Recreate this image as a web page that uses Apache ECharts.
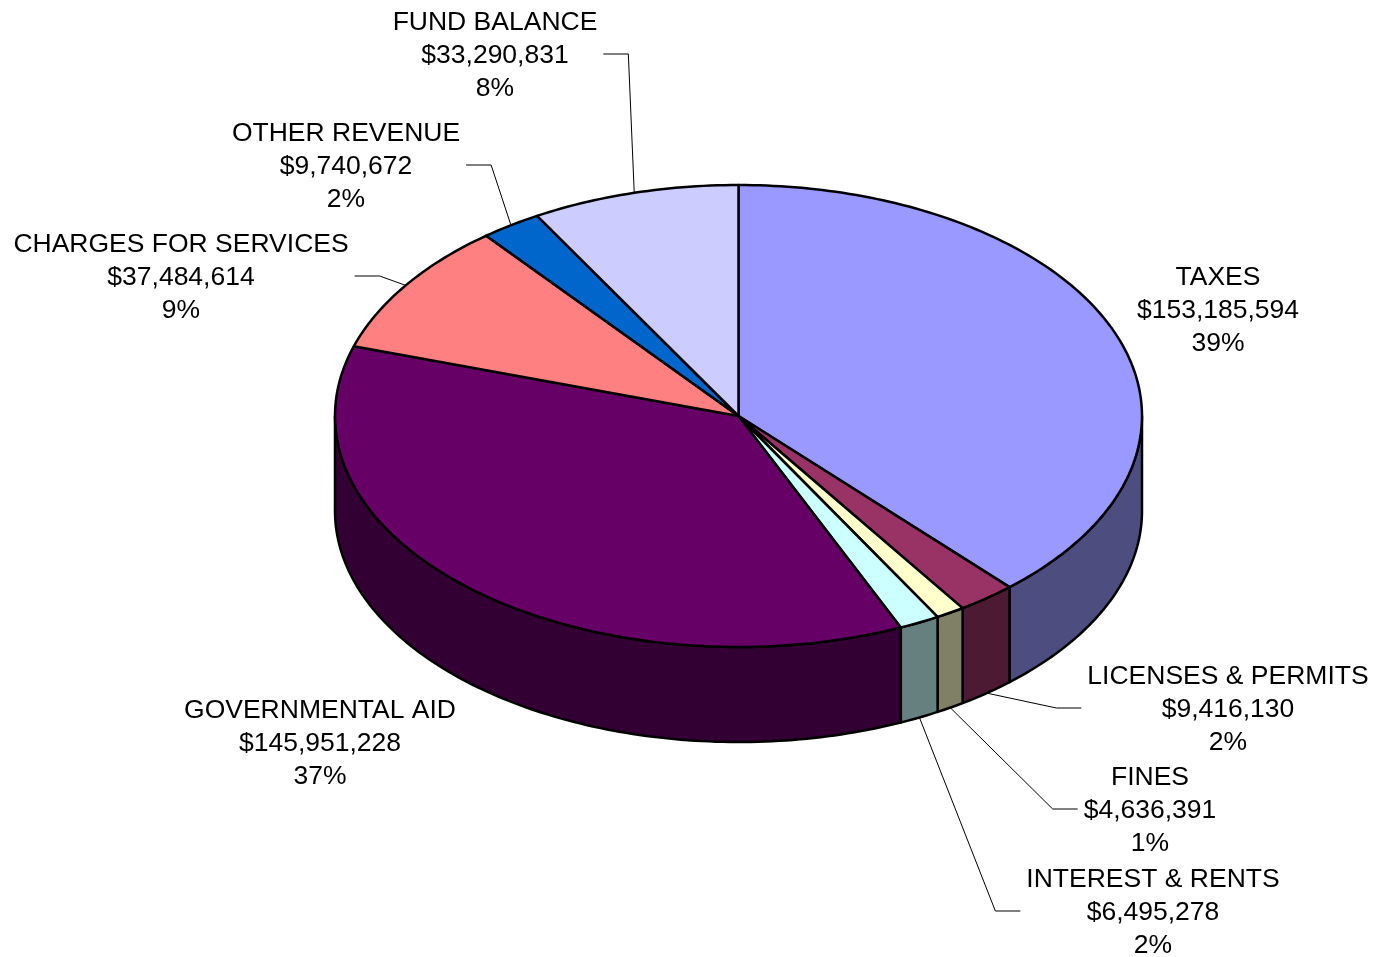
<!DOCTYPE html>
<html>
<head lang="en">
    <meta charset="UTF-8">
    <title>Revenue Sources</title>
    <style>
        html, body { margin: 0; padding: 0; background: #ffffff; }
        #container { width: 1376px; height: 957px; }
    </style>
</head>
<body>
<div id="container"></div>
<script type="text/javascript" src="https://cdn.jsdelivr.net/npm/echarts@6/dist/echarts.min.js"></script>
<script type="text/javascript">
    // ---- data ----
    var categories = ['TAXES', 'LICENSES & PERMITS', 'FINES', 'INTEREST & RENTS',
        'GOVERNMENTAL AID', 'CHARGES FOR SERVICES', 'OTHER REVENUE', 'FUND BALANCE'];
    var values = [153185594, 9416130, 4636391, 6495278, 145951228, 37484614, 9740672, 33290831];
    var percentLabels = ['39%', '2%', '1%', '2%', '37%', '9%', '2%', '8%'];

    // ---- styles ----
    var topColors = ['#9999FF', '#993366', '#FFFFCC', '#CCFFFF', '#660066', '#FF8080', '#0066CC', '#CCCCFF'];
    var sideColors = ['#4D4D80', '#4D1A33', '#808066', '#668080', '#330033', '#804040', '#003366', '#666680'];

    // ---- layout ----
    var CX = 738.5, CY = 416, RX = 403.5, RY = 231, DEPTH = 95;
    var FONT_SIZE = 26.5, LINE_H = 33;
    // centre of each label block (middle line)
    var labelCenters = [[1218, 311], [1228, 710], [1150, 811], [1153, 913],
        [320, 744], [181, 278], [346, 167], [495, 56]];

    var total = values.reduce(function (s, v) { return s + v; }, 0);
    var angles = [];
    var acc = 0;
    values.forEach(function (v) {
        var a1 = acc / total * Math.PI * 2;
        acc += v;
        angles.push([a1, acc / total * Math.PI * 2]);
    });

    var measureCtx = document.createElement('canvas').getContext('2d');
    measureCtx.font = FONT_SIZE + 'px "Liberation Sans", Arial';

    function pt(t, dy) {
        return [CX + RX * Math.sin(t), CY - RY * Math.cos(t) + dy];
    }
    function arc(t1, t2, dy) {
        var n = Math.max(2, Math.ceil((t2 - t1) / (Math.PI / 180)));
        var out = [];
        for (var k = 0; k <= n; k++) {
            out.push(pt(t1 + (t2 - t1) * k / n, dy));
        }
        return out;
    }

    function renderItem(params, api) {
        var i = params.dataIndex;
        var a1 = angles[i][0], a2 = angles[i][1];
        var children = [];

        // visible side wall (front half of the disc)
        var w1 = Math.max(a1, Math.PI / 2), w2 = Math.min(a2, Math.PI * 1.5);
        if (w2 > w1) {
            var wall = arc(w1, w2, 0).concat(arc(w1, w2, DEPTH).reverse());
            children.push({
                type: 'polygon', z2: 1,
                shape: { points: wall },
                style: { fill: sideColors[i], stroke: '#000', lineWidth: 2.5, lineJoin: 'round' }
            });
        }

        // top face
        children.push({
            type: 'polygon', z2: 2,
            shape: { points: [[CX, CY]].concat(arc(a1, a2, 0)) },
            style: { fill: topColors[i], stroke: '#000', lineWidth: 2.5, lineJoin: 'round' }
        });

        // label
        var lines = [categories[i], '$' + values[i].toLocaleString('en-US'), percentLabels[i]];
        var lc = labelCenters[i];
        children.push({
            type: 'text', z2: 4,
            x: lc[0], y: lc[1],
            style: {
                text: lines.join('\n'),
                fill: '#000',
                fontSize: FONT_SIZE,
                fontFamily: '"Liberation Sans", Arial',
                align: 'center',
                verticalAlign: 'middle',
                lineHeight: LINE_H
            }
        });

        // leader line
        var mid = (a1 + a2) / 2;
        var anchor = pt(mid, Math.cos(mid) < 0 ? DEPTH : 0);
        var maxW = 0;
        lines.forEach(function (s) { maxW = Math.max(maxW, measureCtx.measureText(s).width); });
        var dir = anchor[0] > lc[0] ? 1 : -1;
        var start = [lc[0] + dir * (maxW / 2 + 6), lc[1] - 2];
        var knee = [start[0] + dir * 25, lc[1] - 2];
        if (Math.abs(anchor[0] - start[0]) > 25) {
            children.push({
                type: 'polyline', z2: 3,
                shape: { points: [start, knee, anchor] },
                style: { fill: null, stroke: '#000', lineWidth: 1 }
            });
        }

        return { type: 'group', children: children };
    }

    var dom = document.getElementById('container');
    var myChart = echarts.init(dom);
    var option = {
        animation: false,
        backgroundColor: '#ffffff',
        series: [{
            type: 'custom',
            coordinateSystem: 'none',
            renderItem: renderItem,
            data: values
        }]
    };
    myChart.setOption(option);
</script>
</body>
</html>
